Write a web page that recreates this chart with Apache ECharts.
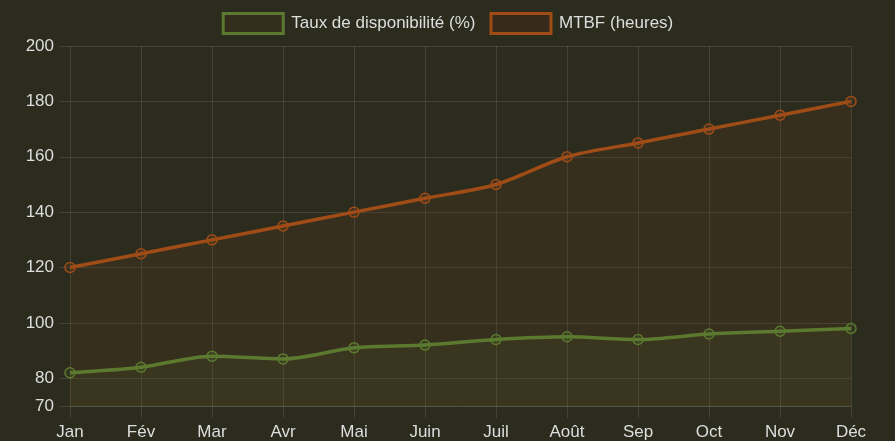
<!DOCTYPE html>
<html>
<head>
<meta charset="utf-8">
<script src="https://cdn.jsdelivr.net/npm/echarts@6/dist/echarts.min.js"></script>
<style>
html,body{margin:0;padding:0;background:#2c2c1e;}
#c{width:895px;height:441px;}
</style>
</head>
<body>
<div id="c"></div>
<script>
const months = ['Jan','Fév','Mar','Avr','Mai','Juin','Juil','Août','Sep','Oct','Nov','Déc'];
const availability = [82, 84, 88, 87, 91, 92, 94, 95, 94, 96, 97, 98];
const mtbf = [120, 125, 130, 135, 140, 145, 150, 160, 165, 170, 175, 180];
const yTicks = [70, 80, 100, 120, 140, 160, 180, 200];
const seriesNames = ['Taux de disponibilité (%)', 'MTBF (heures)'];

const green = '#5b7a2f';
const orange = '#a04c17';
const greenFill = 'rgba(91,122,47,0.12)';
const orangeFill = 'rgba(160,76,23,0.12)';
const gridCol = 'rgba(255,255,255,0.1)';
const textCol = '#dddddd';
const font = 'Liberation Sans, Arial, sans-serif';

const chart = echarts.init(document.getElementById('c'));
chart.setOption({
  backgroundColor: '#2c2c1e',
  animation: false,
  legend: {
    top: 12,
    left: 'center',
    padding: 0,
    itemWidth: 60,
    itemHeight: 20,
    itemGap: 14,
    icon: 'rect',
    textStyle: { color: textCol, fontSize: 17, fontFamily: font, padding: [0,0,0,3] },
    data: [
      { name: seriesNames[0], itemStyle: { color: 'rgba(50,45,28,1)', borderColor: green, borderWidth: 3 } },
      { name: seriesNames[1], itemStyle: { color: 'rgba(55,42,28,1)', borderColor: orange, borderWidth: 3 } }
    ]
  },
  grid: { left: 70, right: 44, top: 46, bottom: 34, containLabel: false },
  xAxis: {
    type: 'category',
    data: months,
    boundaryGap: false,
    axisLine: { show: true, lineStyle: { color: gridCol } },
    axisTick: { show: true, length: 12, lineStyle: { color: gridCol } },
    axisLabel: { color: textCol, fontSize: 17, margin: 18, fontFamily: font },
    splitLine: { show: true, lineStyle: { color: gridCol } }
  },
  yAxis: {
    type: 'value',
    min: 70,
    max: 200,
    interval: 10,
    axisLine: { show: false },
    axisTick: { show: true, length: 11, lineStyle: { color: gridCol }, customValues: yTicks },
    axisLabel: { color: textCol, fontSize: 17, margin: 16, fontFamily: font, customValues: yTicks },
    splitLine: { show: true, lineStyle: { color: gridCol } }
  },
  series: [
    {
      name: seriesNames[0],
      type: 'line',
      data: availability,
      smooth: 0.3,
      symbol: 'circle',
      symbolSize: 10,
      showSymbol: true,
      lineStyle: { color: green, width: 3.5 },
      itemStyle: { color: greenFill, borderColor: green, borderWidth: 1.5 },
      areaStyle: { color: greenFill, origin: 'start' }
    },
    {
      name: seriesNames[1],
      type: 'line',
      data: mtbf,
      smooth: 0.3,
      symbol: 'circle',
      symbolSize: 10,
      showSymbol: true,
      lineStyle: { color: orange, width: 3.5 },
      itemStyle: { color: orangeFill, borderColor: orange, borderWidth: 1.5 },
      areaStyle: { color: orangeFill, origin: 'start' }
    }
  ]
});
</script>
</body>
</html>
